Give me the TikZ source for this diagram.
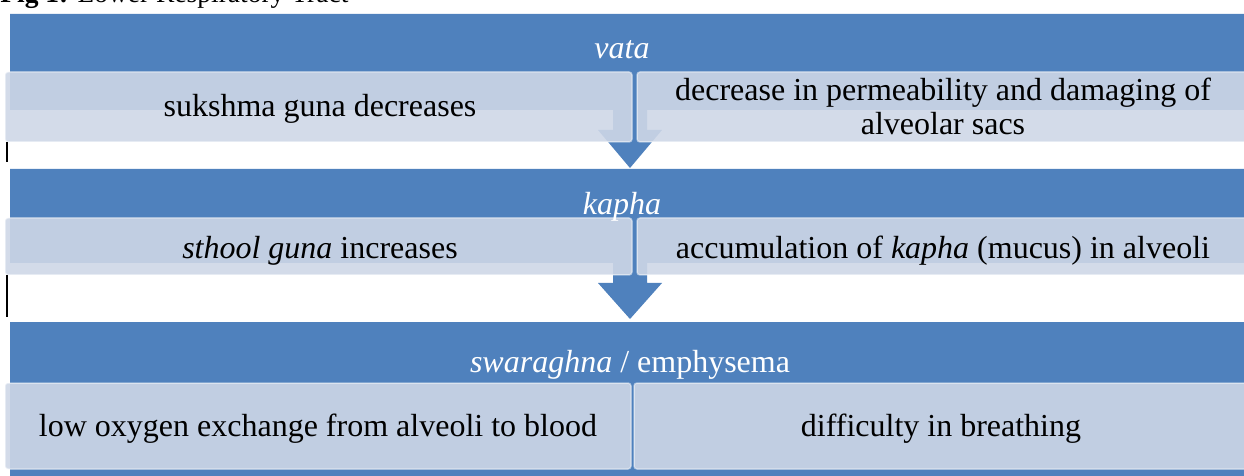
\documentclass[tikz,border=0pt]{standalone}
\usepackage{fontspec}
\setmainfont{Liberation Serif}
\definecolor{stageblue}{RGB}{79,129,189}
\definecolor{childfill}{RGB}{206,215,231}
\tikzset{
  stage/.style={fill=stageblue, draw=none},
  childbox/.style={fill=childfill, fill opacity=0.9, draw=white, draw opacity=0.45,
    line width=0.75pt, rounded corners=1.5pt},
  headtxt/.style={text=white, inner sep=0pt, font=\fontsize{16}{19}\selectfont},
  bodytxt/.style={text=black, inner sep=0pt, align=center, font=\fontsize{16}{17}\selectfont},
  marker/.style={line width=0.9pt, black},
}
\begin{document}
\begin{tikzpicture}[x=0.5pt,y=-0.5pt]
\useasboundingbox (0,0) rectangle (1244,476);

% caption above the chart
\node[anchor=base west, inner sep=0pt, font=\fontsize{13.75}{16}\selectfont] (caption) at (0,3)
  {\textbf{Fig 1:} Lower Respiratory Tract};

% stage 1: header block with down arrow
\fill[stage] (10,14) -- (1252,14) -- (1252,110) -- (647,110) -- (647,130) -- (662,130)
  -- (630,168) -- (598,130) -- (613,130) -- (613,110) -- (10,110) -- cycle;
% stage 2
\fill[stage] (10,169) -- (1252,169) -- (1252,263) -- (647,263) -- (647,283) -- (662,283)
  -- (630,319) -- (598,283) -- (613,283) -- (613,263) -- (10,263) -- cycle;
% stage 3
\fill[stage] (10,322) rectangle (1252,480);

% child boxes
\draw[childbox] (5,72) rectangle (632,142);
\draw[childbox] (637,72) rectangle (1256,142);
\draw[childbox] (5,218) rectangle (632,275);
\draw[childbox] (637,218) rectangle (1256,275);
\draw[childbox] (5,383) rectangle (631,469);
\draw[childbox] (634,383) rectangle (1256,469);

% stage headings
\node[headtxt, anchor=base] (h1) at (622,59) {\itshape vata};
\node[headtxt, anchor=base] (h2) at (622,214) {\itshape kapha};
\node[headtxt, anchor=base] (h3) at (630,372) {\itshape swaraghna\/\upshape\ / emphysema};

% child texts
\node[bodytxt, anchor=base] (c1a) at (320,117) {sukshma guna decreases};
\node[bodytxt] (c1b) at (943,106) {decrease in permeability and damaging of\\alveolar sacs};
\node[bodytxt, anchor=base] (c2a) at (320,258) {\textit{sthool guna} increases};
\node[bodytxt, anchor=base] (c2b) at (943,258) {accumulation of \textit{kapha} (mucus) in alveoli};
\node[bodytxt, anchor=base] (c3a) at (318,437) {low oxygen exchange from alveoli to blood};
\node[bodytxt, anchor=base] (c3b) at (941,437) {difficulty in breathing};

% thin black marks at the left edge
\coordinate (m1a) at (7,142); \coordinate (m1b) at (7,162);
\coordinate (m2a) at (7,275); \coordinate (m2b) at (7,317);
\draw[marker] (m1a) -- (m1b);
\draw[marker] (m2a) -- (m2b);
\end{tikzpicture}
\end{document}
